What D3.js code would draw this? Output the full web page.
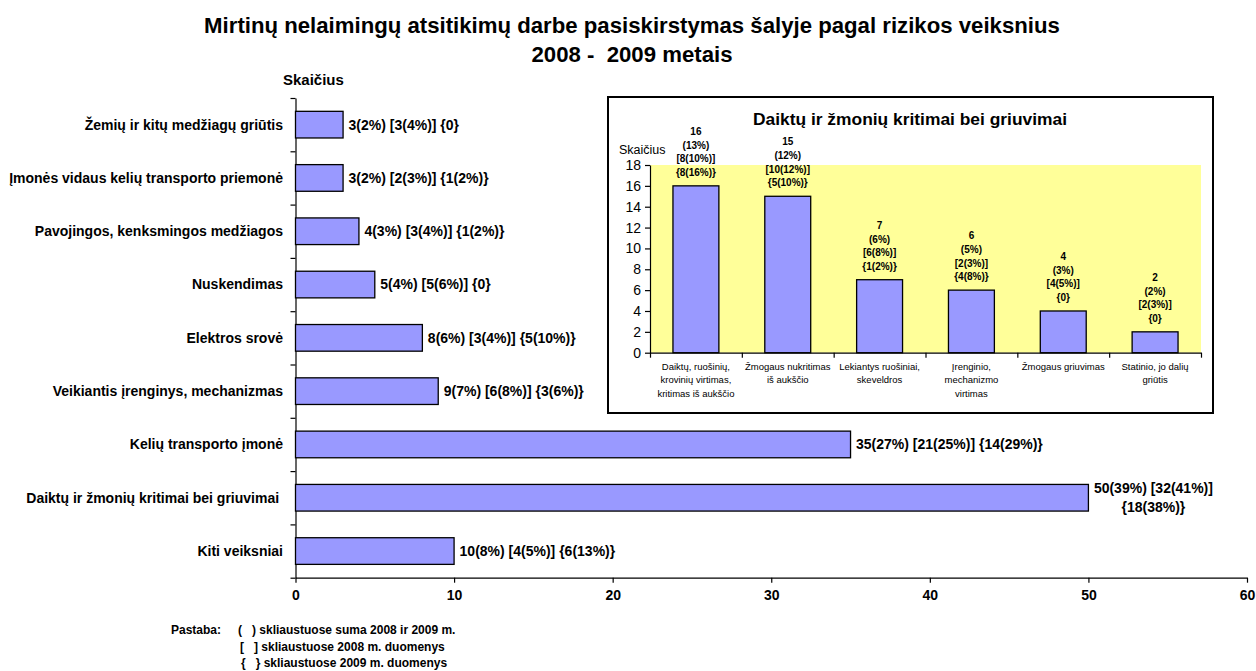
<!DOCTYPE html>
<html>
<head>
<meta charset="utf-8">
<script src="https://cdn.jsdelivr.net/npm/d3@7"></script>
<style>
  body { margin: 0; background: #fff; }
  svg { font-family: "Liberation Sans", Arial, sans-serif; }
  text { white-space: pre; }
</style>
</head>
<body>
<svg id="chart" width="1256" height="671"></svg>
<script>
// main chart data
const categories = [
  "Žemių ir kitų medžiagų griūtis",
  "Įmonės vidaus kelių transporto priemonė",
  "Pavojingos, kenksmingos medžiagos",
  "Nuskendimas",
  "Elektros srovė",
  "Veikiantis įrenginys, mechanizmas",
  "Kelių transporto įmonė",
  "Daiktų ir žmonių kritimai bei griuvimai ",
  "Kiti veiksniai"
];
const values = [3, 3, 4, 5, 8, 9, 35, 50, 10];
const valueLabels = [
  ["3(2%) [3(4%)] {0}"],
  ["3(2%) [2(3%)] {1(2%)}"],
  ["4(3%) [3(4%)] {1(2%)}"],
  ["5(4%) [5(6%)] {0}"],
  ["8(6%) [3(4%)] {5(10%)}"],
  ["9(7%) [6(8%)] {3(6%)}"],
  ["35(27%) [21(25%)] {14(29%)}"],
  ["50(39%) [32(41%)]", "{18(38%)}"],
  ["10(8%) [4(5%)] {6(13%)}"]
];
const xTicks = [0, 10, 20, 30, 40, 50, 60];

// inset data
const insetCategories = [
  ["Daiktų, ruošinių,", "krovinių virtimas,", "kritimas iš aukščio"],
  ["Žmogaus nukritimas", "iš aukščio"],
  ["Lekiantys ruošiniai,", "skeveldros"],
  ["Įrenginio,", "mechanizmo", "virtimas"],
  ["Žmogaus griuvimas"],
  ["Statinio, jo dalių", "griūtis"]
];
const insetValues = [16, 15, 7, 6, 4, 2];
const insetLabels = [
  ["16", "(13%)", "[8(10%)]", "{8(16%)}"],
  ["15", "(12%)", "[10(12%)]", "{5(10%)}"],
  ["7", "(6%)", "[6(8%)]", "{1(2%)}"],
  ["6", "(5%)", "[2(3%)]", "{4(8%)}"],
  ["4", "(3%)", "[4(5%)]", "{0}"],
  ["2", "(2%)", "[2(3%)]", "{0}"]
];
const insetTicks = [0, 2, 4, 6, 8, 10, 12, 14, 16, 18];

const notes = [
  ["Pastaba:", 171], ["(   ) skliaustuose suma 2008 ir 2009 m.", 238],
  ["[   ] skliaustuose 2008 m. duomenys", 240],
  ["{   } skliaustuose 2009 m. duomenys", 241]
];

const barFill = "#9999ff";
const svg = d3.select("#chart");

// title
svg.append("text").attr("x", 632).attr("y", 32.5).attr("text-anchor", "middle")
  .attr("font-size", 22.2).attr("font-weight", "bold")
  .text("Mirtinų nelaimingų atsitikimų darbe pasiskirstymas šalyje pagal rizikos veiksnius");
svg.append("text").attr("x", 632).attr("y", 62).attr("text-anchor", "middle")
  .attr("font-size", 22.2).attr("font-weight", "bold")
  .text("2008 -  2009 metais");

svg.append("text").attr("x", 283).attr("y", 85)
  .attr("font-size", 15).attr("font-weight", "bold").text("Skaičius");

// main chart scales
const x = d3.scaleLinear().domain([0, 60]).range([295.5, 1247]);
const y = d3.scaleBand().domain(d3.range(categories.length))
  .range([98, 577.7]).paddingInner(0.5).paddingOuter(0.25);
const yEdge = d3.scaleLinear().domain([0, categories.length]).range([98, 577.7]);

svg.append("g")
  .attr("transform", "translate(0,577.7)")
  .call(d3.axisBottom(x).tickValues(xTicks).tickSize(5).tickSizeOuter(0))
  .call(g => g.selectAll("path,line").attr("stroke", "#000").attr("stroke-width", 1.2))
  .call(g => g.selectAll("text").attr("font-size", 14).attr("font-weight", "bold")
    .attr("font-family", null).attr("fill", "#000").attr("dy", "1.05em"));

svg.append("g")
  .attr("transform", "translate(295.5,0)")
  .call(d3.axisLeft(yEdge).tickValues(d3.range(categories.length + 1)).tickFormat("")
    .tickSize(5).tickSizeOuter(0))
  .call(g => g.selectAll("path,line").attr("stroke", "#000").attr("stroke-width", 1.2));

svg.append("g").selectAll("rect")
  .data(values)
  .join("rect")
  .attr("x", x(0))
  .attr("y", (d, i) => y(i))
  .attr("width", d => x(d) - x(0))
  .attr("height", y.bandwidth())
  .attr("fill", barFill)
  .attr("stroke", "#000")
  .attr("stroke-width", 1.3);

svg.append("g").selectAll("text")
  .data(categories)
  .join("text")
  .attr("x", 283)
  .attr("y", (d, i) => y(i) + y.bandwidth() / 2)
  .attr("dy", "0.35em")
  .attr("text-anchor", "end")
  .attr("font-size", 14)
  .attr("font-weight", "bold")
  .text(d => d);

valueLabels.forEach((lines, i) => {
  const cy = y(i) + y.bandwidth() / 2;
  const t = svg.append("text").attr("font-size", 14).attr("font-weight", "bold");
  if (lines.length === 1) {
    t.attr("x", x(values[i]) + 5.5).attr("y", cy).attr("dy", "0.35em").text(lines[0]);
  } else {
    t.attr("text-anchor", "middle");
    lines.forEach((s, k) => {
      t.append("tspan").attr("x", x(values[i]) + 65)
        .attr("y", cy + (k - (lines.length - 1) / 2) * 19).attr("dy", "0.35em").text(s);
    });
  }
});

// inset
const inset = svg.append("g");
inset.append("rect").attr("x", 608).attr("y", 97).attr("width", 605).attr("height", 316)
  .attr("fill", "#fff").attr("stroke", "#000").attr("stroke-width", 2);

const ix = d3.scaleBand().domain(d3.range(insetValues.length))
  .range([650, 1201]).paddingInner(0.5).paddingOuter(0.25);
const ixEdge = d3.scaleLinear().domain([0, insetValues.length]).range([650, 1201]);
const iy = d3.scaleLinear().domain([0, 18]).range([352.7, 165]);

inset.append("rect").attr("x", 650).attr("y", iy(18))
  .attr("width", 551).attr("height", iy(0) - iy(18)).attr("fill", "#ffff99");

inset.append("text").attr("x", 910).attr("y", 125).attr("text-anchor", "middle")
  .attr("font-size", 17.4).attr("font-weight", "bold")
  .text("Daiktų ir žmonių kritimai bei griuvimai");
inset.append("text").attr("x", 619).attr("y", 154).attr("font-size", 12.5).text("Skaičius");

inset.append("g")
  .attr("transform", "translate(650,0)")
  .call(d3.axisLeft(iy).tickValues(insetTicks).tickSize(5).tickSizeOuter(0))
  .call(g => g.selectAll("path,line").attr("stroke", "#000").attr("stroke-width", 1.2))
  .call(g => g.selectAll("text").attr("font-size", 14).attr("font-family", null)
    .attr("fill", "#000").attr("x", -9));

inset.append("g")
  .attr("transform", `translate(0,${iy(0)})`)
  .call(d3.axisBottom(ixEdge).tickValues(d3.range(insetValues.length + 1)).tickFormat("")
    .tickSize(5).tickSizeOuter(0))
  .call(g => g.selectAll("path,line").attr("stroke", "#000").attr("stroke-width", 1.2));

inset.append("g").selectAll("rect")
  .data(insetValues)
  .join("rect")
  .attr("x", (d, i) => ix(i))
  .attr("y", d => iy(d))
  .attr("width", ix.bandwidth())
  .attr("height", d => iy(0) - iy(d))
  .attr("fill", barFill)
  .attr("stroke", "#000")
  .attr("stroke-width", 1.3);

insetLabels.forEach((lines, i) => {
  const cx = ix(i) + ix.bandwidth() / 2;
  const t = inset.append("text").attr("text-anchor", "middle")
    .attr("font-size", 10).attr("font-weight", "bold");
  lines.forEach((s, k) => {
    t.append("tspan").attr("x", cx)
      .attr("y", iy(insetValues[i]) - 10 - (lines.length - 1 - k) * 13.6).text(s);
  });
});

insetCategories.forEach((lines, i) => {
  const cx = ix(i) + ix.bandwidth() / 2;
  const t = inset.append("text").attr("text-anchor", "middle").attr("font-size", 9.5);
  lines.forEach((s, k) => {
    t.append("tspan").attr("x", cx).attr("y", 370 + k * 13.3).text(s);
  });
});

// notes
const noteY = [634, 634, 651, 667];
notes.forEach(([s, nx], i) => {
  svg.append("text").attr("x", nx).attr("y", noteY[i])
    .attr("font-size", 12).attr("font-weight", "bold").text(s);
});
</script>
</body>
</html>
